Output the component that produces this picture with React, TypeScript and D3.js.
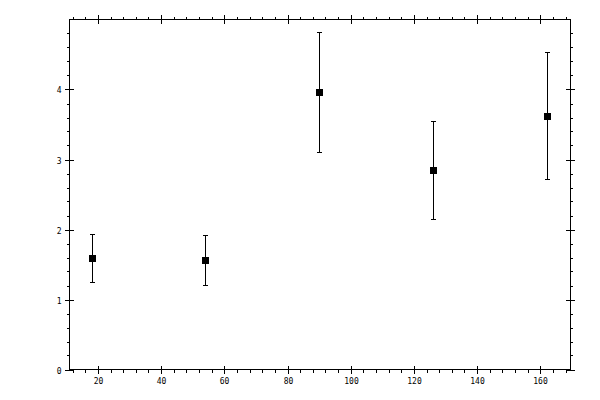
import React, { useEffect, useRef } from 'react';
import * as d3 from 'd3';

// data
const xValues = [18, 54, 90, 126, 162];
const yValues = [1.59, 1.56, 3.96, 2.85, 3.62];
const yErrors = [0.34, 0.36, 0.86, 0.7, 0.91];
const xTickLabels = [20, 40, 60, 80, 100, 120, 140, 160];
const yTickLabels = [0, 1, 2, 3, 4];

const App: React.FC = () => {
  const svgRef = useRef<SVGSVGElement>(null);

  useEffect(() => {
    if (!svgRef.current) return;
    const svg = d3.select(svgRef.current);
    svg.selectAll('*').remove();

    const left = 69.5, right = 570, top = 19.5, bottom = 369.5;

    const x = d3.scaleLinear().domain([11, 169.4]).range([left, right]);
    const y = d3.scaleLinear().domain([0, 5]).range([bottom, top]);

    const g = svg.append('g').attr('shape-rendering', 'crispEdges');

    // frame
    g.append('rect')
      .attr('x', left).attr('y', top)
      .attr('width', right - left).attr('height', bottom - top)
      .attr('fill', 'none').attr('stroke', '#000');

    const majOut = 4.5, majIn = 4, minOut = 3;

    // x ticks, bottom and top
    const xMinor = d3.range(12, 169, 4).filter(v => v % 20 !== 0);
    xMinor.forEach(v => {
      const px = Math.round(x(v)) + 0.5;
      g.append('line').attr('x1', px).attr('x2', px).attr('y1', bottom).attr('y2', bottom + minOut).attr('stroke', '#000');
      g.append('line').attr('x1', px).attr('x2', px).attr('y1', top).attr('y2', top - minOut).attr('stroke', '#000');
    });
    xTickLabels.forEach(v => {
      const px = Math.round(x(v)) + 0.5;
      g.append('line').attr('x1', px).attr('x2', px).attr('y1', bottom - majIn).attr('y2', bottom + majOut).attr('stroke', '#000');
      g.append('line').attr('x1', px).attr('x2', px).attr('y1', top + majIn).attr('y2', top - majOut).attr('stroke', '#000');
      svg.append('text')
        .attr('x', px).attr('y', 384)
        .attr('text-anchor', 'middle')
        .style('font-family', 'DejaVu Sans Mono')
        .style('font-size', '8px')
        .text(v);
    });

    // y ticks, left and right
    const yMinor = d3.range(0, 5.01, 0.2).filter(v => Math.abs(v - Math.round(v)) > 0.01);
    yMinor.forEach(v => {
      const py = Math.round(y(v)) + 0.5;
      g.append('line').attr('y1', py).attr('y2', py).attr('x1', left).attr('x2', left - minOut).attr('stroke', '#000');
      g.append('line').attr('y1', py).attr('y2', py).attr('x1', right).attr('x2', right + minOut).attr('stroke', '#000');
    });
    yTickLabels.forEach(v => {
      const py = Math.round(y(v)) + 0.5;
      g.append('line').attr('y1', py).attr('y2', py).attr('x1', left - majOut).attr('x2', left + majIn).attr('stroke', '#000');
      g.append('line').attr('y1', py).attr('y2', py).attr('x1', right - majIn).attr('x2', right + majOut).attr('stroke', '#000');
      svg.append('text')
        .attr('x', 61.5).attr('y', py + 3)
        .attr('text-anchor', 'end')
        .style('font-family', 'DejaVu Sans Mono')
        .style('font-size', '8px')
        .text(v);
    });

    // error bars
    const pts = xValues.map((xv, i) => ({ x: xv, y: yValues[i], e: yErrors[i] }));
    const cap = 2.5;
    const eb = g.append('g').attr('stroke', '#000');
    pts.forEach(d => {
      const px = Math.round(x(d.x)) + 0.5;
      const y1 = y(d.y + d.e), y0 = y(d.y - d.e);
      eb.append('line').attr('x1', px).attr('x2', px).attr('y1', y1).attr('y2', y0);
      eb.append('line').attr('x1', px - cap).attr('x2', px + cap).attr('y1', y1).attr('y2', y1);
      eb.append('line').attr('x1', px - cap).attr('x2', px + cap).attr('y1', y0).attr('y2', y0);
    });

    // markers
    const s = 7;
    g.selectAll('rect.pt')
      .data(pts)
      .enter().append('rect')
      .attr('class', 'pt')
      .attr('x', d => Math.round(x(d.x)) + 0.5 - s / 2)
      .attr('y', d => Math.round(y(d.y)) - s / 2)
      .attr('width', s).attr('height', s)
      .attr('fill', '#000');
  }, []);

  return (
    <svg
      ref={svgRef}
      width="600"
      height="400"
      style={{ position: 'absolute', left: 0, top: 0, background: '#fff' }}
    />
  );
};

export default App;
